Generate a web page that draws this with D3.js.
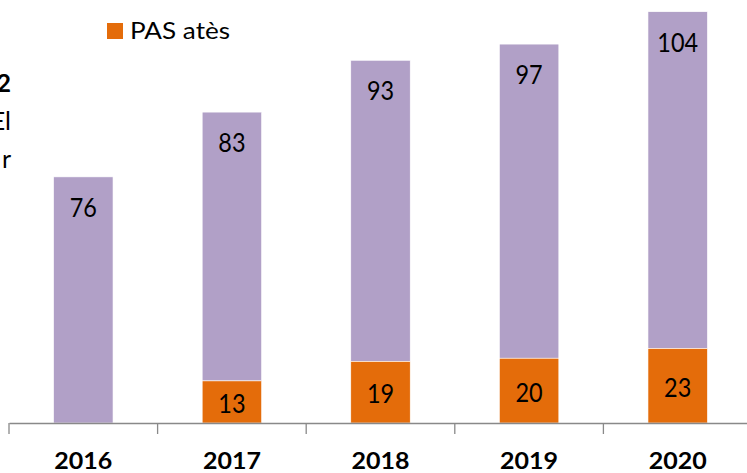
<!DOCTYPE html>
<html><head><meta charset="utf-8">
<script src="https://cdn.jsdelivr.net/npm/d3@7"></script>
<style>
html,body{margin:0;padding:0;background:#fff;overflow:hidden;}
text{font-family:Lato,"Open Sans",sans-serif;}
</style></head>
<body>
<svg id="c" width="747" height="473"></svg>
<script>
const years = ["2016","2017","2018","2019","2020"];
const pasAtes = [0, 13, 19, 20, 23];
const otherValues = [76, 83, 93, 97, 104];
const legendLabel = "PAS atès";
const cutLabels = [{t:"2", bold:true}, {t:"El", bold:false}, {t:"r", bold:false}];

const orange = "#E46C0A", purple = "#B1A0C7";
const svg = d3.select("#c");
const x = d3.scaleBand().domain(years).range([9, 752]).padding(0);
const y = d3.scaleLinear().domain([0, 130]).range([423, 2]);
const bw = x.bandwidth() * 0.4;
const digitW = 13.6;

const rows = years.map((yr, i) => ({yr, a: pasAtes[i], b: otherValues[i]}));

// purple (stacked on top of orange)
svg.selectAll("rect.p").data(rows).join("rect")
  .attr("x", d => x(d.yr) + (x.bandwidth() - bw) / 2)
  .attr("width", bw)
  .attr("y", d => y(d.a + d.b))
  .attr("height", d => y(d.a) - y(d.a + d.b))
  .attr("fill", purple).attr("stroke", "#fff").attr("stroke-width", 0.6);

// orange
svg.selectAll("rect.o").data(rows.filter(d => d.a > 0)).join("rect")
  .attr("x", d => x(d.yr) + (x.bandwidth() - bw) / 2)
  .attr("width", bw)
  .attr("y", d => y(d.a))
  .attr("height", d => y(0) - y(d.a))
  .attr("fill", orange).attr("stroke", "#fff").attr("stroke-width", 0.6);

// labels
svg.selectAll("text.pl").data(rows).join("text")
  .attr("x", d => x(d.yr) + x.bandwidth() / 2)
  .attr("y", d => y(d.a + d.b) + 30.5 + 9.5)
  .attr("text-anchor", "middle")
  .attr("font-size", 26.5).attr("fill", "#000")
  .attr("textLength", d => String(d.b).length * digitW)
  .attr("lengthAdjust", "spacingAndGlyphs")
  .text(d => d.b);
svg.selectAll("text.ol").data(rows.filter(d => d.a > 0)).join("text")
  .attr("x", d => x(d.yr) + x.bandwidth() / 2)
  .attr("y", d => (y(d.a) + y(0)) / 2 + 1.5 + 9.5)
  .attr("text-anchor", "middle")
  .attr("font-size", 26.5).attr("fill", "#000")
  .attr("textLength", d => String(d.a).length * digitW)
  .attr("lengthAdjust", "spacingAndGlyphs")
  .text(d => d.a);

// axis
const ax = svg.append("g").attr("transform", "translate(0,423)")
  .call(d3.axisBottom(x).tickSize(0).tickFormat(""));
ax.select(".domain").attr("stroke", "#898989").attr("stroke-width", 1.3);
const bounds = years.map(v => x(v)).concat([x(years[years.length-1]) + x.bandwidth()]);
svg.selectAll("line.tk").data(bounds).join("line")
  .attr("x1", d => d).attr("x2", d => d)
  .attr("y1", 423).attr("y2", 434)
  .attr("stroke", "#898989").attr("stroke-width", 1.3);
svg.selectAll("text.yr").data(years).join("text")
  .attr("x", d => x(d) + x.bandwidth() / 2)
  .attr("y", 469)
  .attr("text-anchor", "middle")
  .attr("font-size", 23).attr("font-weight", "bold").attr("fill", "#000")
  .attr("textLength", 58)
  .attr("lengthAdjust", "spacingAndGlyphs")
  .text(d => d);

// legend
svg.append("rect").attr("x", 107).attr("y", 23).attr("width", 16).attr("height", 16).attr("fill", orange);
svg.append("text").attr("x", 130).attr("y", 39).attr("font-size", 22.5).attr("fill", "#000")
  .attr("textLength", 100).attr("lengthAdjust", "spacingAndGlyphs")
  .text(legendLabel);

// cut-off text on the left
svg.selectAll("text.cut").data(cutLabels).join("text")
  .attr("x", 11)
  .attr("y", (d, i) => 92 + i * 38)
  .attr("text-anchor", "end")
  .attr("font-size", 25)
  .attr("font-weight", d => d.bold ? "bold" : "normal")
  .attr("fill", "#000")
  .text(d => d.t);
</script>
</body></html>
